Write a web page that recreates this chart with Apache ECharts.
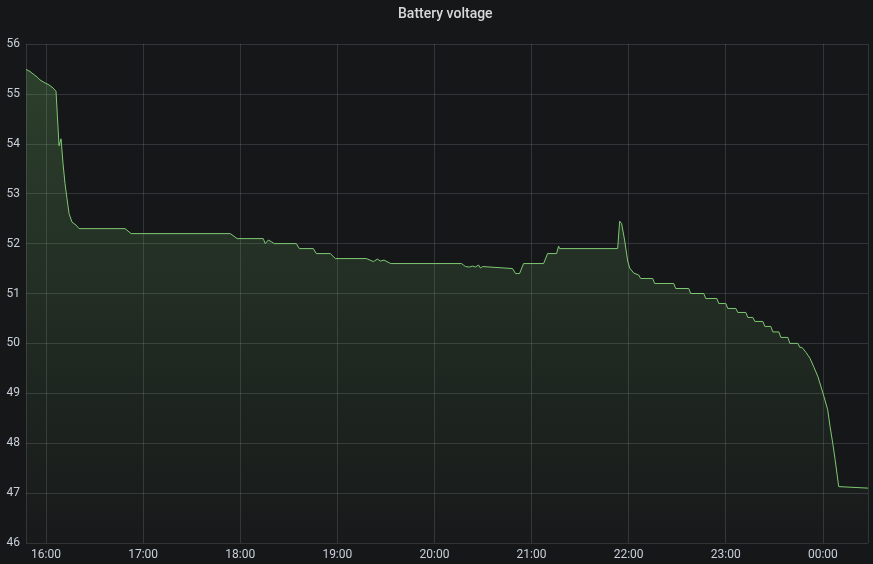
<!DOCTYPE html>
<html>
<head>
<meta charset="utf-8">
<script src="https://cdn.jsdelivr.net/npm/echarts@6/dist/echarts.min.js"></script>
<style>
html,body{margin:0;padding:0;background:#161719;}
#c{width:873px;height:564px;}
</style>
</head>
<body>
<div id="c"></div>
<script>
var chartTitle = 'Battery voltage';
var times = [
 '15:47:38','15:50:06','15:51:58','15:54:26','15:56:17','15:59:23','16:01:51','16:04:20','16:05:34','16:06:11',
 '16:08:03','16:09:17','16:10:31','16:11:45','16:12:59','16:14:14','16:16:05','16:18:34','16:20:25',
 '16:48:52','16:52:35','17:53:50','17:58:09',
 '18:14:14','18:15:28','18:17:20','18:19:11','18:21:02','18:34:39','18:36:31',
 '18:45:10','18:47:01','18:55:40','18:58:46',
 '19:18:00','19:22:17','19:24:46','19:26:37','19:28:50','19:33:00',
 '20:16:43','20:17:58','20:19:14','20:20:26','20:21:40','20:23:31','20:25:23','20:27:14','20:28:28','20:29:43','20:30:56',
 '20:48:16','20:50:08','20:52:36','20:55:04','21:07:27','21:09:55','21:15:29','21:16:43','21:17:20',
 '21:53:13','21:54:27','21:55:04','21:55:41','21:57:30','21:59:25','22:00:39','22:03:07','22:06:13','22:07:27',
 '22:14:52','22:16:06','22:27:52','22:29:06','22:37:08','22:38:22','22:46:25','22:47:39','22:54:29','22:55:43',
 '23:00:03','23:01:17','23:06:14','23:07:28','23:12:25','23:13:39','23:16:45','23:17:59','23:22:56','23:24:10',
 '23:27:52','23:29:06','23:32:49','23:34:03','23:38:23','23:39:37','23:44:34','23:45:48','23:47:06',
 '23:49:35','23:52:04','23:54:32','23:57:00','00:00:06','00:03:00','00:04:29','00:06:07','00:07:35','00:09:48','00:11:00','00:27:54'
];
var volts = [
 55.49,55.45,55.40,55.34,55.28,55.22,55.18,55.12,55.08,55.05,
 53.96,54.10,53.60,53.20,52.90,52.60,52.43,52.37,52.30,
 52.30,52.20,52.20,52.10,
 52.10,52.00,52.07,52.04,52.00,52.00,51.90,
 51.90,51.80,51.80,51.70,
 51.70,51.64,51.69,51.65,51.67,51.60,
 51.60,51.57,51.54,51.55,51.53,51.55,51.53,51.57,51.51,51.54,51.50,
 51.50,51.40,51.40,51.60,51.60,51.80,51.80,51.95,51.90,
 51.90,52.45,52.49,52.40,52.07,51.65,51.51,51.41,51.37,51.30,
 51.30,51.20,51.20,51.10,51.10,51.00,51.00,50.90,50.90,50.80,
 50.80,50.70,50.70,50.62,50.62,50.52,50.52,50.44,50.44,50.34,
 50.34,50.23,50.23,50.12,50.12,50.00,50.00,49.92,49.92,
 49.82,49.70,49.52,49.33,49.00,48.67,48.33,48.00,47.67,47.13,47.10,47.10
];
var yTicks = [46,47,48,49,50,51,52,53,54,55,56];

function toDate(s){
  var p = s.split(':').map(Number);
  var day = p[0] < 12 ? 2 : 1;
  return new Date(2021, 4, day, p[0], p[1], p[2]).getTime();
}
var data = times.map(function(t,i){ return [toDate(t), volts[i]]; });
function pad(n){ return (n<10?'0':'')+n; }

var chart = echarts.init(document.getElementById('c'), null, {renderer:'canvas'});
chart.setOption({
  backgroundColor:'#161719',
  animation:false,
  title:{
    text: chartTitle, left:393, top:2,
    textStyle:{color:'#d8d9da', fontSize:14, fontWeight:500, fontFamily:'Roboto'}
  },
  grid:{left:26, right:5, top:44, bottom:21, containLabel:false},
  xAxis:{
    type:'time',
    min: toDate(times[0]), max: toDate(times[times.length-1]),
    minInterval:3600*1000, maxInterval:3600*1000,
    axisLine:{show:false}, axisTick:{show:false},
    splitLine:{show:true, lineStyle:{color:'rgba(204,204,220,0.16)', width:1}},
    axisLabel:{
      color:'#c7d0d9', fontSize:12, fontFamily:'Roboto', margin:6,
      formatter:function(v){ var d=new Date(v); return pad(d.getHours())+':'+pad(d.getMinutes()); }
    }
  },
  yAxis:{
    type:'value', min:yTicks[0], max:yTicks[yTicks.length-1], interval:1,
    axisLine:{show:false}, axisTick:{show:false},
    splitLine:{show:true, lineStyle:{color:'rgba(204,204,220,0.16)', width:1}},
    axisLabel:{color:'#c7d0d9', fontSize:12, fontFamily:'Roboto', margin:6}
  },
  series:[{
    type:'line', data:data, showSymbol:false, symbol:'none',
    lineStyle:{color:'#7ec872', width:1},
    areaStyle:{color:new echarts.graphic.LinearGradient(0,0,0,1,[
      {offset:0,color:'rgba(115,191,105,0.34)'},
      {offset:1,color:'rgba(115,191,105,0.02)'}
    ]), origin:'start'}
  }]
});
</script>
</body>
</html>
